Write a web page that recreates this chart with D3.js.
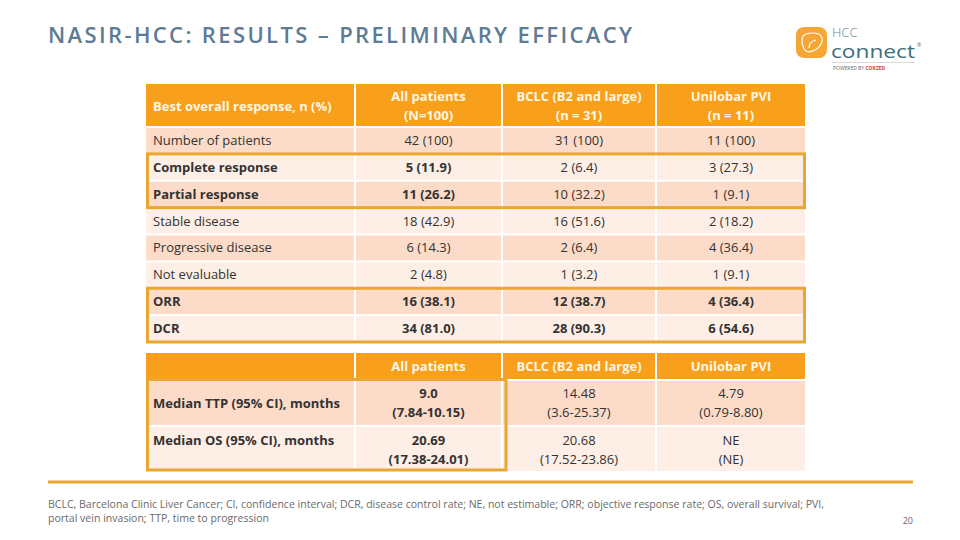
<!DOCTYPE html>
<html>
<head>
<meta charset="utf-8">
<script src="https://cdn.jsdelivr.net/npm/d3@7"></script>
<style>
  html, body { margin: 0; padding: 0; background: #ffffff; }
  svg { display: block; font-family: "Open Sans", "DejaVu Sans", sans-serif; }
</style>
</head>
<body>
<svg id="chart" width="960" height="540"></svg>
<script>
// ---------------- DATA ----------------
const titleText = "NASIR-HCC: RESULTS \u2013 PRELIMINARY EFFICACY";
const responseHeaderLabel = "Best overall response, n (%)";
const responseCategories = ["Number of patients", "Complete response", "Partial response", "Stable disease", "Progressive disease", "Not evaluable", "ORR", "DCR"];
const groupHeaders = [["All patients", "(N=100)"], ["BCLC (B2 and large)", "(n = 31)"], ["Unilobar PVI", "(n = 11)"]];
const allPatients = ["42 (100)", "5 (11.9)", "11 (26.2)", "18 (42.9)", "6 (14.3)", "2 (4.8)", "16 (38.1)", "34 (81.0)"];
const bclcPatients = ["31 (100)", "2 (6.4)", "10 (32.2)", "16 (51.6)", "2 (6.4)", "1 (3.2)", "12 (38.7)", "28 (90.3)"];
const unilobarPatients = ["11 (100)", "3 (27.3)", "1 (9.1)", "2 (18.2)", "4 (36.4)", "1 (9.1)", "4 (36.4)", "6 (54.6)"];

const survivalCategories = ["Median TTP (95% CI), months", "Median OS (95% CI), months"];
const survivalHeaders = ["All patients", "BCLC (B2 and large)", "Unilobar PVI"];
const survivalAll = [["9.0", "(7.84-10.15)"], ["20.69", "(17.38-24.01)"]];
const survivalBclc = [["14.48", "(3.6-25.37)"], ["20.68", "(17.52-23.86)"]];
const survivalUnilobar = [["4.79", "(0.79-8.80)"], ["NE", "(NE)"]];

const footnoteLines = [
  "BCLC, Barcelona Clinic Liver Cancer; CI, confidence interval; DCR, disease control rate; NE, not estimable; ORR; objective response rate; OS, overall survival; PVI,",
  "portal vein invasion; TTP, time to progression"
];
const pageNumber = "20";

// ---------------- STYLE / LAYOUT ----------------
const ORANGE = "#F8A01C";
const DARK_ROW = "#FCDCC8";
const LIGHT_ROW = "#FDEEE6";
const BOX = "#EBA630";
const HEAD_TEXT = "#FFF6E4";
const BODY_TEXT = "#333333";
const GAP = 2;

const svg = d3.select("#chart");

// Column scale: column index -> left edge (cumulative widths)
const colWidths = [210, 147, 154, 150];
const colEdges = [146];
colWidths.forEach(w => colEdges.push(colEdges[colEdges.length - 1] + w));
const colScale = d3.scaleOrdinal().domain([0, 1, 2, 3]).range(colEdges.slice(0, 4));
const colW = i => colWidths[i] - GAP;
const colMid = i => colScale(i) + colW(i) / 2;

// ---------------- TITLE ----------------
svg.append("text")
  .attr("x", 48).attr("y", 43)
  .attr("fill", "#5E7B94")
  .attr("font-size", 22).attr("font-weight", 600)
  .attr("textLength", 584).attr("lengthAdjust", "spacing")
  .text(titleText);

// ---------------- LOGO ----------------
const logo = svg.append("g").attr("transform", "translate(796,27)");
logo.append("rect").attr("x", 0).attr("y", 0).attr("width", 31).attr("height", 31).attr("rx", 8).attr("fill", "#F5A634");
logo.append("path")
  .attr("d", "M7,9 C11,5 22,5 25,9 C28,13 25,20 19,23 C15,25 11,26 9,23 C6,19 5,13 7,9 Z M13,21 C13,17 16,14 20,13")
  .attr("fill", "none").attr("stroke", "#ffffff").attr("stroke-width", 1.2);
logo.append("text").attr("x", 36).attr("y", 9.5).attr("font-size", 13).attr("font-weight", 300)
  .attr("fill", "#5F8594").text("HCC");
logo.append("text").attr("x", 35).attr("y", 31).attr("font-size", 18).attr("font-weight", 500)
  .attr("fill", "#3F6E7D").attr("textLength", 84).attr("lengthAdjust", "spacingAndGlyphs").text("connect");
logo.append("text").attr("x", 121).attr("y", 20).attr("font-size", 5).attr("fill", "#3F6E7D").text("\u00AE");
logo.append("line").attr("x1", 36).attr("x2", 119).attr("y1", 35.5).attr("y2", 35.5).attr("stroke", "#c8c8c8").attr("stroke-width", 0.7);
const pw = logo.append("text").attr("x", 37).attr("y", 43).attr("font-size", 5).attr("fill", "#666");
pw.append("tspan").text("POWERED BY ");
pw.append("tspan").attr("fill", "#D2452F").attr("font-weight", 700).text("CORZED");

// ---------------- TABLE 1 ----------------
const t1 = svg.append("g");
const header1Top = 84, header1H = 42;
const rowScale1 = d3.scaleBand().domain(responseCategories).range([header1Top + header1H + GAP, 341]).paddingInner(0.0755).paddingOuter(0);

// header
d3.range(4).forEach(i => {
  t1.append("rect").attr("x", colScale(i)).attr("y", header1Top).attr("width", colW(i)).attr("height", header1H).attr("fill", ORANGE);
});
t1.append("text").attr("x", colScale(0) + 7).attr("y", header1Top + header1H / 2 + 6)
  .attr("font-size", 13).attr("font-weight", 700).attr("fill", HEAD_TEXT).text(responseHeaderLabel);
groupHeaders.forEach((lines, j) => {
  lines.forEach((ln, k) => {
    t1.append("text").attr("x", colMid(j + 1)).attr("y", header1Top + 17 + k * 19)
      .attr("text-anchor", "middle").attr("font-size", 13).attr("font-weight", 700)
      .attr("fill", HEAD_TEXT).text(ln);
  });
});

const boldFirstTwo = new Set(["Complete response", "Partial response"]);
const boldAll = new Set(["ORR", "DCR"]);
const colSeries = [allPatients, bclcPatients, unilobarPatients];

responseCategories.forEach((cat, r) => {
  const y = rowScale1(cat), h = rowScale1.bandwidth();
  const fill = r % 2 === 0 ? DARK_ROW : LIGHT_ROW;
  d3.range(4).forEach(i => {
    t1.append("rect").attr("x", colScale(i)).attr("y", y).attr("width", colW(i)).attr("height", h).attr("fill", fill);
  });
  const cy = y + h / 2 + 4.5;
  t1.append("text").attr("x", colScale(0) + 7).attr("y", cy).attr("font-size", 13)
    .attr("font-weight", (boldFirstTwo.has(cat) || boldAll.has(cat)) ? 700 : 400)
    .attr("fill", BODY_TEXT).text(cat);
  colSeries.forEach((series, j) => {
    const bold = boldAll.has(cat) || (boldFirstTwo.has(cat) && j === 0);
    t1.append("text").attr("x", colMid(j + 1)).attr("y", cy).attr("text-anchor", "middle")
      .attr("font-size", 13).attr("font-weight", bold ? 700 : 400)
      .attr("fill", BODY_TEXT).text(series[r]);
  });
});

// highlight boxes
function box(g, x0, x1, y0, y1) {
  g.append("rect").attr("x", x0).attr("y", y0).attr("width", x1 - x0).attr("height", y1 - y0)
    .attr("fill", "none").attr("stroke", BOX).attr("stroke-width", 3);
}
const right1 = colScale(3) + colW(3);
box(t1, colScale(0) + 1.5, right1 - 0.5,
  rowScale1("Complete response") - 1, rowScale1("Partial response") + rowScale1.bandwidth() + 1);
box(t1, colScale(0) + 1.5, right1 - 0.5,
  rowScale1("ORR") - 1, rowScale1("DCR") + rowScale1.bandwidth() + 1);

// ---------------- TABLE 2 ----------------
const t2 = svg.append("g");
const header2Top = 353, header2H = 26;
const rowScale2 = d3.scaleBand().domain(survivalCategories).range([header2Top + header2H + GAP, 471]).paddingInner(0.045).paddingOuter(0);

d3.range(4).forEach(i => {
  t2.append("rect").attr("x", colScale(i)).attr("y", header2Top).attr("width", colW(i)).attr("height", header2H).attr("fill", ORANGE);
});
survivalHeaders.forEach((hd, j) => {
  t2.append("text").attr("x", colMid(j + 1)).attr("y", header2Top + header2H / 2 + 5)
    .attr("text-anchor", "middle").attr("font-size", 13).attr("font-weight", 700)
    .attr("fill", HEAD_TEXT).text(hd);
});
const survSeries = [survivalAll, survivalBclc, survivalUnilobar];
const labelAlign = ["middle", "top"];
survivalCategories.forEach((cat, r) => {
  const y = rowScale2(cat), h = rowScale2.bandwidth();
  const fill = r % 2 === 0 ? DARK_ROW : LIGHT_ROW;
  d3.range(4).forEach(i => {
    t2.append("rect").attr("x", colScale(i)).attr("y", y).attr("width", colW(i)).attr("height", h).attr("fill", fill);
  });
  const line1 = y + h / 2 - 4.5, line2 = y + h / 2 + 14.5;
  const ly = labelAlign[r] === "middle" ? y + h / 2 + 5 : line1;
  t2.append("text").attr("x", colScale(0) + 7).attr("y", ly).attr("font-size", 13).attr("font-weight", 700)
    .attr("fill", BODY_TEXT).text(cat);
  survSeries.forEach((series, j) => {
    series[r].forEach((ln, k) => {
      t2.append("text").attr("x", colMid(j + 1)).attr("y", k === 0 ? line1 : line2).attr("text-anchor", "middle")
        .attr("font-size", 13).attr("font-weight", j === 0 ? 700 : 400)
        .attr("fill", BODY_TEXT).text(ln);
    });
  });
});
box(t2, colScale(0) + 1.5, colScale(2) + 3, header2Top + header2H + 0.5, 470);

// ---------------- FOOTER ----------------
svg.append("line").attr("x1", 48).attr("x2", 913).attr("y1", 482).attr("y2", 482)
  .attr("stroke", BOX).attr("stroke-width", 3);
const fnLengths = [776, 221];
footnoteLines.forEach((ln, i) => {
  svg.append("text").attr("x", 48).attr("y", 507.5 + i * 14).attr("font-size", 10)
    .attr("fill", "#6a6a6a").attr("textLength", fnLengths[i]).attr("lengthAdjust", "spacingAndGlyphs").text(ln);
});
svg.append("text").attr("x", 913).attr("y", 524).attr("text-anchor", "end").attr("font-size", 9)
  .attr("fill", "#666666").text(pageNumber);
</script>
</body>
</html>
